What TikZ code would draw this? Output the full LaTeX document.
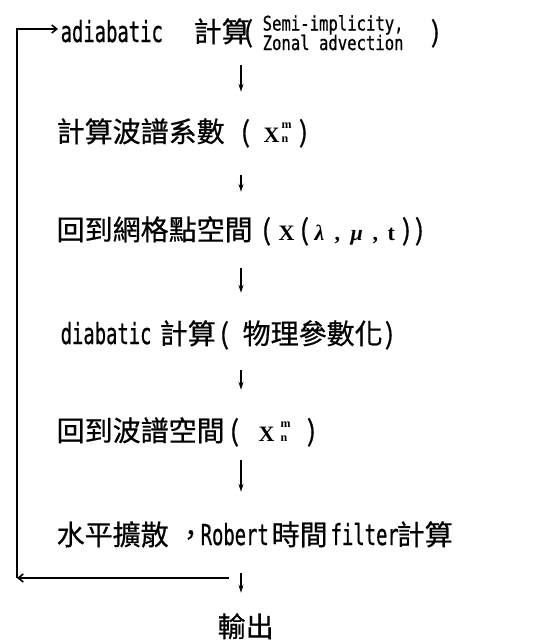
\documentclass[tikz,border=0pt]{standalone}
\usepackage{fontspec}
\usepackage{graphicx}
\usetikzlibrary{arrows.meta}
\newfontfamily\cjkf{Noto Sans CJK TC}[FakeBold=0.6]
\newfontfamily\latf{DejaVu Sans Mono}[FakeBold=0.8]
\newfontfamily\serf{Liberation Serif}
\newcommand\putx[2]{\rlap{\hspace*{#1pt}#2}}
\newcommand\ZH[1]{{\cjkf\fontsize{28}{30}\selectfont #1}}
\newcommand\LA[1]{\scalebox{0.65}[1]{\latf\fontsize{29}{31}\selectfont #1}}
\newcommand\SM[1]{\scalebox{0.78}[1]{\latf\fontsize{20}{22}\selectfont #1}}
\newcommand\SR[1]{{\serf\bfseries\fontsize{22}{24}\selectfont #1}}
\newcommand\GR[1]{{\serf\bfseries\itshape\fontsize{22}{24}\selectfont #1}}
\newcommand\MN{\rlap{\raisebox{14pt}{\serf\bfseries\fontsize{12}{12}\selectfont m}}{\serf\bfseries\fontsize{12}{12}\selectfont n}}
\begin{document}
\begin{tikzpicture}[x=1pt,y=-1pt,
  line/.style={anchor=base west,inner sep=0pt,text height=22pt,text depth=4pt},
  down/.style={line width=1.5pt,-{Stealth[length=8pt,width=5pt]}},
  loop/.style={line width=1.6pt,-{Straight Barb[length=5pt,width=8pt]}}]
\useasboundingbox (0,0) rectangle (550,640);
\coordinate (ax) at (241,0);
\node[line] (n1) at (0,42) {\putx{60}{\LA{adiabatic}}\putx{193}{\ZH{計算}}\putx{243}{\ZH{(}}\putx{262}{\raisebox{11.5pt}{\SM{Semi-implicity,}}}\putx{262}{\raisebox{-8pt}{\SM{Zonal advection}}}\putx{430}{\ZH{)}}};
\node[line] (n2) at (0,142) {\putx{56}{\ZH{計算波譜系數}}\putx{240}{\ZH{(}}\putx{263}{\SR{X}}\putx{281}{\MN}\putx{298}{\ZH{)}}};
\node[line] (n3) at (0,240) {\putx{56}{\ZH{回到網格點空間}}\putx{261}{\ZH{(}}\putx{278}{\SR{X}}\putx{299}{\ZH{(}}\putx{314}{\GR{λ}}\putx{334}{\SR{,}}\putx{350}{\GR{μ}}\putx{372}{\SR{,}}\putx{387}{\SR{t}}\putx{401}{\ZH{)}}\putx{414}{\ZH{)}}};
\node[line] (n4) at (0,344) {\putx{60}{\LA{diabatic}}\putx{159}{\ZH{計算}}\putx{219}{\ZH{(}}\putx{242}{\ZH{物理參數化}}\putx{384}{\ZH{)}}};
\node[line] (n5) at (0,441) {\putx{56}{\ZH{回到波譜空間}}\putx{229}{\ZH{(}}\putx{258}{\SR{X}}\putx{280}{\MN}\putx{306}{\ZH{)}}};
\node[line] (n6) at (0,545) {\putx{56}{\ZH{水平擴散}}\putx{176}{\ZH{，}}\putx{200}{\LA{Robert}}\putx{271}{\ZH{時間}}\putx{330}{\LA{filter}}\putx{396}{\ZH{計算}}};
\node[line] (n7) at (0,637) {\putx{217}{\ZH{輸出}}};
\draw[down,shorten <=19pt,shorten >=28pt] (n1.south -| ax) -- (n2.north -| ax);
\draw[down,shorten <=29pt,shorten >=26pt] (n2.south -| ax) -- (n3.north -| ax);
\draw[down,shorten <=24pt,shorten >=29pt] (n3.south -| ax) -- (n4.north -| ax);
\draw[down,shorten <=22pt,shorten >=29pt] (n4.south -| ax) -- (n5.north -| ax);
\draw[down,shorten <=15pt,shorten >=31pt] (n5.south -| ax) -- (n6.north -| ax);
\draw[down,shorten <=24pt,shorten >=22pt] (n6.south -| ax) -- (n7.north -| ax);
\coordinate (bs) at (229,578);
\coordinate (lb) at (17,578);
\coordinate (lt) at (17,29);
\coordinate (tin) at (58,29);
\draw[loop] (bs) -- (lb);
\draw[loop] (lb) -- (lt) -- (tin);
\end{tikzpicture}
\end{document}
